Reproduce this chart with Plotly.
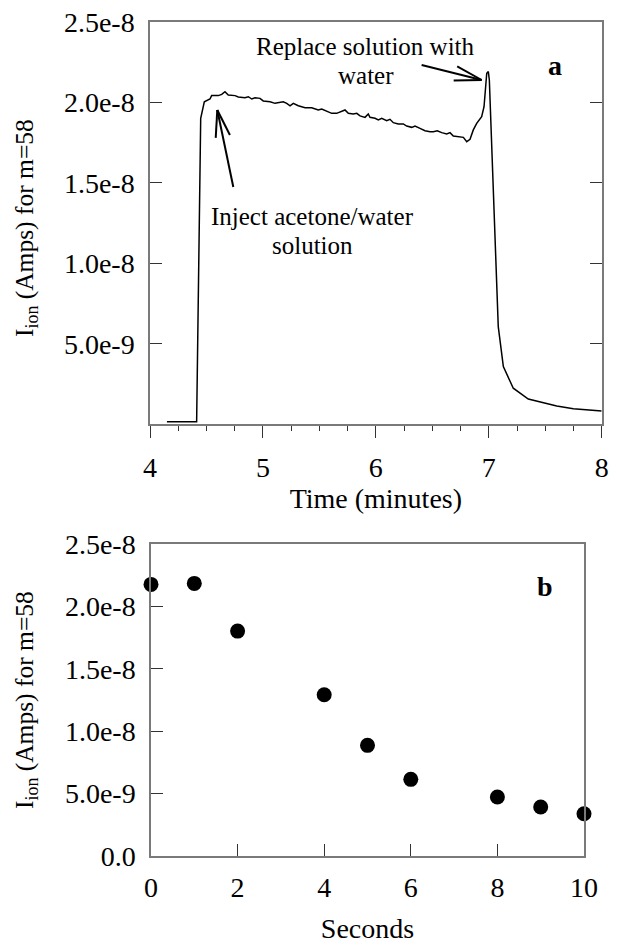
import math
import plotly.graph_objects as go

# ---------------- data ----------------
# Panel a: ion current (Amps, m=58) vs time (minutes)
time_min = [4.15, 4.413, 4.449, 4.481, 4.531, 4.546, 4.605, 4.635, 4.664, 4.693,
            4.753, 4.782, 4.841, 4.871, 4.901, 4.930, 4.974, 5.003, 5.063, 5.107,
            5.180, 5.211, 5.240, 5.269, 5.313, 5.373, 5.432, 5.490, 5.521, 5.565,
            5.609, 5.653, 5.698, 5.727, 5.756, 5.800, 5.831, 5.860, 5.904, 5.933,
            5.948, 5.993, 6.022, 6.052, 6.096, 6.125, 6.155, 6.199, 6.243, 6.273,
            6.318, 6.347, 6.391, 6.435, 6.480, 6.509, 6.544, 6.583, 6.628, 6.657,
            6.686, 6.745, 6.775, 6.805, 6.834, 6.863, 6.893, 6.937, 6.958, 6.982,
            6.996, 7.005, 7.084, 7.129, 7.217, 7.350, 7.602, 7.749, 8.000]
ion_a_e8 = [0.016, 0.016, 1.900, 2.003, 2.020, 2.041, 2.041, 2.049, 2.065, 2.045,
            2.041, 2.033, 2.028, 2.034, 2.020, 2.028, 2.024, 2.008, 2.003, 1.993,
            2.003, 1.993, 1.978, 1.993, 1.978, 1.966, 1.966, 1.952, 1.958, 1.946,
            1.931, 1.931, 1.941, 1.952, 1.931, 1.927, 1.931, 1.915, 1.906, 1.927,
            1.906, 1.900, 1.890, 1.900, 1.885, 1.894, 1.873, 1.865, 1.865, 1.852,
            1.844, 1.852, 1.838, 1.823, 1.817, 1.817, 1.823, 1.811, 1.803, 1.811,
            1.790, 1.782, 1.782, 1.755, 1.770, 1.828, 1.869, 1.910, 1.972, 2.180,
            2.190, 2.138, 0.606, 0.358, 0.224, 0.157, 0.114, 0.097, 0.083]
ion_a = [v * 1e-8 for v in ion_a_e8]

# Panel b: ion current vs seconds
seconds = [0, 1, 2, 4, 5, 6, 8, 9, 10]
ion_b_e8 = [2.178, 2.186, 1.803, 1.292, 0.886, 0.613, 0.471, 0.391, 0.337]
ion_b = [v * 1e-8 for v in ion_b_e8]

# tick labels
y_tickvals_a = [0.5e-8, 1.0e-8, 1.5e-8, 2.0e-8, 2.5e-8]
y_ticktext_a = ["5.0e-9", "1.0e-8", "1.5e-8", "2.0e-8", "2.5e-8"]
y_tickvals_b = [0, 0.5e-8, 1.0e-8, 1.5e-8, 2.0e-8, 2.5e-8]
y_ticktext_b = ["0.0", "5.0e-9", "1.0e-8", "1.5e-8", "2.0e-8", "2.5e-8"]
x_tickvals_a = [4, 5, 6, 7, 8]
x_tickvals_b = [0, 2, 4, 6, 8, 10]

# annotation anchor points (data coordinates)
replace_tip = (6.937, 2.138e-8)
inject_tip = (4.596, 1.952e-8)

FONT = "Liberation Serif, Tinos, Times New Roman, DejaVu Serif, serif"
W, H = 617, 945
AX_COL = "#7a7a7a"
TICK_COL = "#333333"

fig = go.Figure()

fig.add_trace(go.Scatter(
    x=time_min, y=ion_a, mode="lines",
    line=dict(color="black", width=1.5),
    xaxis="x", yaxis="y", showlegend=False,
))
fig.add_trace(go.Scatter(
    x=seconds, y=ion_b, mode="markers",
    marker=dict(color="black", size=15),
    cliponaxis=False,
    xaxis="x2", yaxis="y2", showlegend=False,
))

tickfont = dict(family=FONT, size=28, color="black")
titlefont = dict(family=FONT, size=28, color="black")

fig.update_layout(
    template="none",
    width=W, height=H,
    margin=dict(l=0, r=0, t=0, b=0, autoexpand=False),
    paper_bgcolor="white", plot_bgcolor="white",
    font=dict(family=FONT, color="black"),
    xaxis=dict(
        domain=[150 / W, 601.7 / W], anchor="y", automargin=False,
        range=[4, 8], tickvals=x_tickvals_a, ticks="outside", ticklen=12,
        tickcolor=TICK_COL, tickwidth=1.2,
        minor=dict(dtick=0.25, tick0=4, ticks="outside", ticklen=5,
                   tickcolor=TICK_COL, tickwidth=1.2, showgrid=False),
        showline=True, linecolor=AX_COL, linewidth=1.5, mirror=True,
        showgrid=False, zeroline=False, tickfont=tickfont,
        ticklabelstandoff=5,
        title=dict(text="Time (minutes)", font=titlefont, standoff=6),
    ),
    yaxis=dict(
        domain=[1 - 424.3 / H, 1 - 21.7 / H], anchor="x", automargin=False,
        range=[0, 2.5e-8], tickvals=y_tickvals_a, ticktext=y_ticktext_a,
        ticks="inside", ticklen=12, tickcolor=TICK_COL, tickwidth=1.2,
        showline=True, linecolor=AX_COL, linewidth=1.5, mirror="ticks",
        showgrid=False, zeroline=False, tickfont=tickfont,
        ticklabelstandoff=8,
    ),
    xaxis2=dict(
        domain=[151 / W, 584 / W], anchor="y2", automargin=False,
        range=[0, 10], tickvals=x_tickvals_b, ticks="inside", ticklen=12,
        tickcolor=TICK_COL, tickwidth=1.2,
        showline=True, linecolor=AX_COL, linewidth=1.5, mirror=True,
        showgrid=False, zeroline=False, tickfont=tickfont,
        ticklabelstandoff=6,
        title=dict(text="Seconds", font=titlefont, standoff=16),
    ),
    yaxis2=dict(
        domain=[1 - 855.7 / H, 1 - 544.3 / H], anchor="x2", automargin=False,
        range=[0, 2.5e-8], tickvals=y_tickvals_b, ticktext=y_ticktext_b,
        ticks="inside", ticklen=12, tickcolor=TICK_COL, tickwidth=1.2,
        showline=True, linecolor=AX_COL, linewidth=1.5, mirror=True,
        showgrid=False, zeroline=False, tickfont=tickfont,
        ticklabelstandoff=8,
    ),
)

ann = []
ytitle = "I<sub>ion</sub> (Amps) for m=58"
ytitle_font = dict(family=FONT, size=25.5, color="black")
ann.append(dict(text=ytitle, xref="paper", yref="paper", x=26 / W,
                y=1 - 228 / H, textangle=-90, showarrow=False,
                font=ytitle_font, xanchor="center", yanchor="middle"))
ann.append(dict(text=ytitle, xref="paper", yref="paper", x=26 / W,
                y=1 - 700 / H, textangle=-90, showarrow=False,
                font=ytitle_font, xanchor="center", yanchor="middle"))

# panel letters
ann.append(dict(text="<b>a</b>", xref="x", yref="y", x=7.587, y=2.231e-8,
                showarrow=False, font=dict(family=FONT, size=28)))
ann.append(dict(text="<b>b</b>", xref="x2", yref="y2", x=9.1, y=2.159e-8,
                showarrow=False, font=dict(family=FONT, size=28)))

# text labels
lab_font = dict(family=FONT, size=25, color="black")
ann.append(dict(text="Replace solution with", xref="x", yref="y", x=5.911,
                y=2.346e-8, showarrow=False, font=lab_font))
ann.append(dict(text="water", xref="x", yref="y", x=5.911,
                y=2.166e-8, showarrow=False, font=lab_font))
ann.append(dict(text="Inject acetone/water", xref="x", yref="y", x=5.443,
                y=1.290e-8, showarrow=False, font=lab_font))
ann.append(dict(text="solution", xref="x", yref="y", x=5.443,
                y=1.110e-8, showarrow=False, font=lab_font))

fig.update_layout(annotations=ann)


def arrow_shapes(tip, shaft, xref, yref, barb_len=28, half_angle=15):
    """Arrow drawn as pixel-sized line shapes anchored at the tip.
    shaft: screen-pixel offset (dx, dy; y downward) from tip to tail."""
    segs = [shaft]
    th = math.atan2(shaft[1], shaft[0])
    for s in (-1, 1):
        a = th + s * math.radians(half_angle)
        segs.append((barb_len * math.cos(a), barb_len * math.sin(a)))
    out = []
    for dx, dy in segs:
        out.append(dict(type="line", xref=xref, yref=yref,
                        xsizemode="pixel", ysizemode="pixel",
                        xanchor=tip[0], yanchor=tip[1],
                        x0=0, y0=0, x1=dx, y1=-dy,
                        line=dict(color="black", width=2)))
    return out


shapes = arrow_shapes(replace_tip, (-60, -15), "x", "y") + \
    arrow_shapes(inject_tip, (16, 77), "x", "y")
fig.update_layout(shapes=shapes)

fig.write_html("out.html",
               config={"displayModeBar": False},
               post_script="document.body.style.margin='0';"
                           "document.body.style.overflow='hidden';")
